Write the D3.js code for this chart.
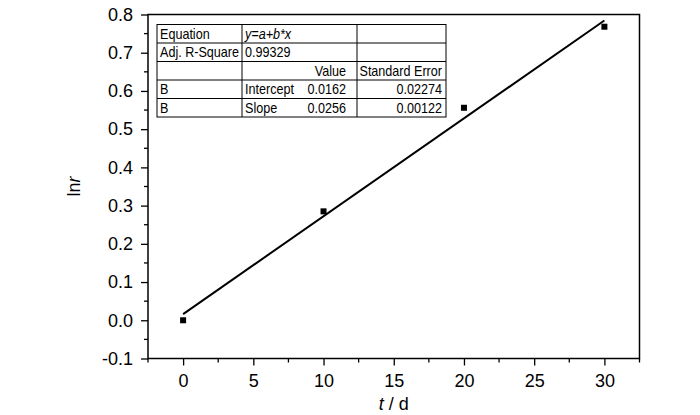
<!DOCTYPE html>
<html><head><meta charset="utf-8">
<script src="https://cdn.jsdelivr.net/npm/d3@7"></script>
<style>
body{margin:0;background:#fff;}
text{font-family:"Liberation Sans",Arial,sans-serif;}
</style></head>
<body><svg id="c" width="700" height="415"></svg>
<script>
const days = [0, 10, 20, 30];
const lnr = [0.0, 0.285, 0.556, 0.768];
const intercept = 0.0162, slope = 0.0256;
const xTicks = [0, 5, 10, 15, 20, 25, 30];
const yTicks = [-0.1, 0.0, 0.1, 0.2, 0.3, 0.4, 0.5, 0.6, 0.7, 0.8];
const tableRows = [
  ["Equation", "y=a+b*x", "", ""],
  ["Adj. R-Square", "0.99329", "", ""],
  ["", "", "Value", "Standard Error"],
  ["B", "Intercept", "0.0162", "0.02274"],
  ["B", "Slope", "0.0256", "0.00122"]
];

const svg = d3.select("#c");
const L = 148, R = 639.5, T = 14.5, B = 358.5;
const x = d3.scaleLinear().domain([-2.5, 32.5]).range([L, R]);
const y = d3.scaleLinear().domain([-0.1, 0.8]).range([B, T]);

const xMinor = d3.range(-2.5, 32.6, 2.5).filter(v => Math.abs(v % 5) > 0.01);
const yMinor = d3.range(-0.05, 0.8, 0.1);
const fmtY = v => d3.format(".1f")(v).replace("\u2212", "-");

const gx = svg.append("g").attr("transform", `translate(0,${B})`);
gx.call(d3.axisBottom(x).tickValues(xTicks).tickSize(7).tickPadding(9).tickFormat(d3.format("d")));
xMinor.forEach(v => gx.append("line").attr("x1", x(v)).attr("x2", x(v)).attr("y1", 0).attr("y2", 4).attr("stroke", "#000").attr("stroke-width", 1.3));

const gy = svg.append("g").attr("transform", `translate(${L},0)`);
gy.call(d3.axisLeft(y).tickValues(yTicks).tickSize(7).tickPadding(8).tickFormat(fmtY));
yMinor.forEach(v => gy.append("line").attr("y1", y(v)).attr("y2", y(v)).attr("x1", 0).attr("x2", -4).attr("stroke", "#000").attr("stroke-width", 1.3));

[gx, gy].forEach(g => {
  g.select(".domain").remove();
  g.selectAll(".tick line").attr("stroke", "#000").attr("stroke-width", 1.3);
  g.selectAll(".tick text").attr("font-size", 18).attr("fill", "#000");
});

svg.append("rect").attr("x", L).attr("y", T).attr("width", R - L).attr("height", B - T)
  .attr("fill", "none").attr("stroke", "#000").attr("stroke-width", 1.5);

svg.append("line")
  .attr("x1", x(0)).attr("y1", y(intercept))
  .attr("x2", x(30)).attr("y2", y(intercept + slope * 30))
  .attr("stroke", "#000").attr("stroke-width", 2);

svg.selectAll("rect.pt").data(days).enter().append("rect").attr("class", "pt")
  .attr("x", (d) => x(d) - 3).attr("y", (d, i) => y(lnr[i]) - 3)
  .attr("width", 6).attr("height", 6).attr("fill", "#000");

const tx = [157, 242, 357, 446];
const tTop = 24.5, rh = 18.5;
const tg = svg.append("g");
tg.append("rect").attr("x", tx[0]).attr("y", tTop).attr("width", tx[3] - tx[0]).attr("height", rh * 5)
  .attr("fill", "#fff").attr("stroke", "#000").attr("stroke-width", 1);
for (let i = 1; i < 5; i++) tg.append("line").attr("x1", tx[0]).attr("x2", tx[3]).attr("y1", tTop + rh * i).attr("y2", tTop + rh * i).attr("stroke", "#000");
[tx[1], tx[2]].forEach(v => tg.append("line").attr("x1", v).attr("x2", v).attr("y1", tTop).attr("y2", tTop + rh * 5).attr("stroke", "#000"));
tableRows.forEach((r, i) => {
  const yy = tTop + rh * i + 14;
  const t = (txt, xx, anchor, italic) => tg.append("text")
    .attr("transform", `translate(${xx},${yy}) scale(0.9,1)`).attr("font-size", 14)
    .attr("text-anchor", anchor).attr("font-style", italic ? "italic" : "normal").text(txt);
  if (r[0]) t(r[0], tx[0] + 3, "start");
  if (r[1]) t(r[1], tx[1] + 3, "start", i === 0);
  if (r[2]) t(r[2], tx[2] - 11, "end");
  if (r[3]) t(r[3], tx[3] - 4, "end");
});

const xt = svg.append("text").attr("x", (L + R) / 2).attr("y", 410).attr("text-anchor", "middle").attr("font-size", 18);
xt.append("tspan").attr("font-style", "italic").text("t");
xt.append("tspan").text(" / d");
const yt = svg.append("text").attr("transform", `translate(80,${(T + B) / 2}) rotate(-90)`).attr("text-anchor", "middle").attr("font-size", 18);
yt.append("tspan").text("ln");
yt.append("tspan").attr("font-style", "italic").text("r");
</script></body></html>
